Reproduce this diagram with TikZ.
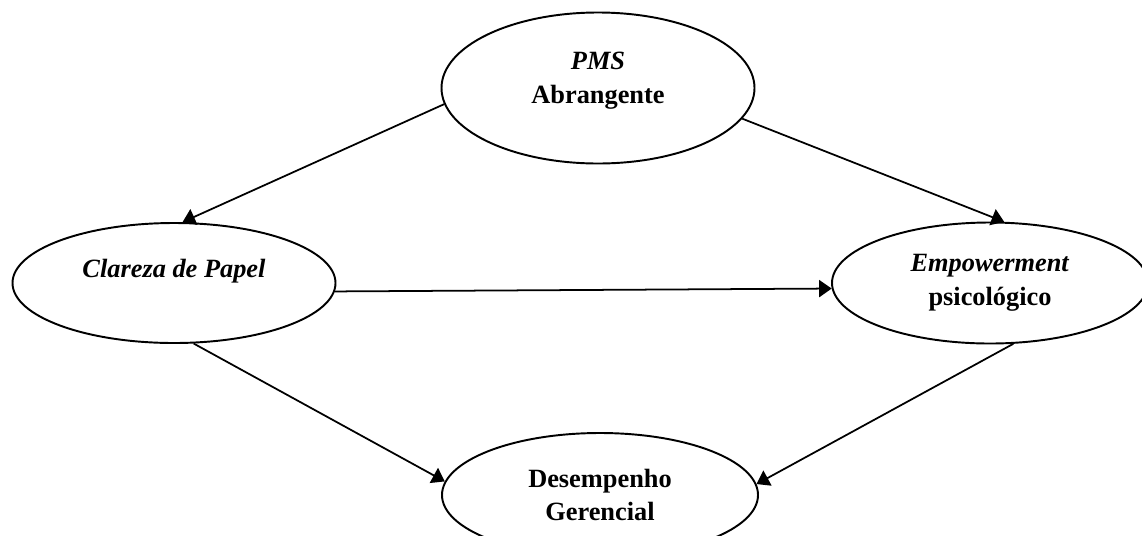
\documentclass[tikz,border=0pt]{standalone}
\usepackage{fontspec}
\setmainfont{Liberation Serif}
\usetikzlibrary{arrows.meta, shapes.geometric, positioning}

\begin{document}
\begin{tikzpicture}[
  var/.style={ellipse, draw, line width=1.1pt, align=center, inner sep=0pt,
              font=\fontsize{15}{19.3}\selectfont\bfseries},
  arr/.style={-{Triangle[length=2.5mm, width=3.4mm]}, line width=1pt}
]
\useasboundingbox (0,0) rectangle (22.84,-10.7);

% Constructs of the model
\node[var, minimum width=6.26cm, minimum height=3.02cm, text depth=0.4cm]
  (pms) at (11.96,-1.76) {\textit{PMS}\\Abrangente};
\node[var, minimum width=6.46cm, minimum height=2.40cm, text depth=0.6cm]
  (clar) at (3.48,-5.66) {\textit{Clareza de Papel}};
\node[var, minimum width=6.32cm, minimum height=2.42cm]
  (emp) at (19.80,-5.66) {\textit{Empowerment}\\psicológico};
\node[var, minimum width=6.32cm, minimum height=2.48cm]
  (des) at (12.00,-9.90) {Desempenho\\Gerencial};

% Paths between constructs
\draw[arr] (pms.186) -- (clar.82);
\draw[arr] (pms.-12) -- (emp.77);
\draw[arr] (clar.-3) -- (emp.182);
\draw[arr] (clar.-72) -- (des.175);
\draw[arr] (emp.-69) -- (des.4);

\end{tikzpicture}
\end{document}
